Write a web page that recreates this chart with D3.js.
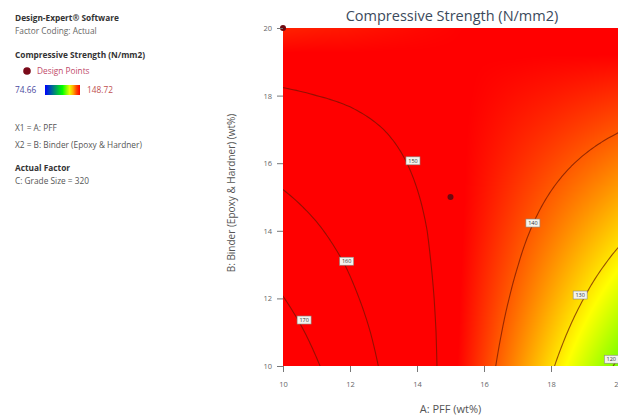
<!DOCTYPE html>
<html><head><meta charset="utf-8">
<script src="https://cdn.jsdelivr.net/npm/d3@7"></script>
<style>body{margin:0;background:#fff} svg{display:block;font-family:"Open Sans",sans-serif}</style>
</head><body><svg id="chart" width="618" height="418"></svg>
<script>
// ---- data ----
const xGrid = [10, 11, 12, 13, 14, 15, 16, 17, 18, 19, 20];   // A: PFF (wt%)
const yGrid = [10, 11, 12, 13, 14, 15, 16, 17, 18, 19, 20];   // B: Binder (wt%)
// estimated response (N/mm2), one row per B value (B = 10 ... 20), columns A = 10 ... 20
const surface = [
  [176.3, 170.6, 164.9, 159.1, 153.4, 147.7, 142.0, 136.3, 130.6, 124.9, 119.2],
  [173.3, 168.2, 163.1, 158.0, 152.9, 147.8, 142.7, 137.6, 132.5, 127.4, 122.3],
  [170.2, 165.7, 161.2, 156.8, 152.3, 147.8, 143.3, 138.9, 134.4, 129.9, 125.4],
  [167.1, 163.2, 159.4, 155.5, 151.6, 147.8, 143.9, 140.1, 136.2, 132.3, 128.5],
  [163.9, 160.7, 157.4, 154.2, 151.0, 147.7, 144.5, 141.2, 138.0, 134.7, 131.5],
  [160.7, 158.1, 155.5, 152.8, 150.2, 147.6, 145.0, 142.3, 139.7, 137.1, 134.5],
  [157.5, 155.5, 153.5, 151.4, 149.4, 147.4, 145.4, 143.4, 141.4, 139.4, 137.4],
  [154.2, 152.8, 151.4, 150.0, 148.6, 147.2, 145.8, 144.4, 143.1, 141.7, 140.3],
  [150.8, 150.0, 149.3, 148.5, 147.7, 147.0, 146.2, 145.4, 144.7, 143.9, 143.1],
  [147.4, 147.3, 147.1, 147.0, 146.8, 146.7, 146.5, 146.4, 146.2, 146.1, 145.9],
  [144.0, 144.5, 144.9, 145.4, 145.9, 146.3, 146.8, 147.3, 147.7, 148.2, 148.7]
];
const contourLevels = [120, 130, 140, 150, 160, 170];
const labelA = [19.8, 18.87, 17.46, 13.88, 11.9, 10.63];
const labelB = [10.2, 12.1, 14.23, 16.07, 13.1, 11.36];
const designA = [10, 15];
const designB = [20, 15];
const xTicks = [10, 12, 14, 16, 18, 20];
const yTicks = [10, 12, 14, 16, 18, 20];
const legendMin = 74.66, legendMax = 148.72;

// ---- drawing ----
const svg = d3.select("#chart");
const x = d3.scaleLinear().domain([10, 20]).range([283, 618]);
const y = d3.scaleLinear().domain([10, 20]).range([366, 28]);
const color = d3.scaleLinear()
  .domain([legendMin, 111.69, 128, 146.5])
  .range(["#0000ff", "#00ff00", "#ffff00", "#ff0000"])
  .clamp(true);

function interp(a, b) {
  const gi = Math.max(0, Math.min(9.9999, a - xGrid[0]));
  const gj = Math.max(0, Math.min(9.9999, b - yGrid[0]));
  const i = Math.floor(gi), j = Math.floor(gj);
  const fx = gi - i, fy = gj - j;
  const v00 = surface[j][i], v10 = surface[j][i + 1], v01 = surface[j + 1][i], v11 = surface[j + 1][i + 1];
  return v00 * (1 - fx) * (1 - fy) + v10 * fx * (1 - fy) + v01 * (1 - fx) * fy + v11 * fx * fy;
}

// colour field
const W = Math.round(x(20) - x(10)), H = Math.round(y(10) - y(20));
const cv = document.createElement("canvas");
cv.width = W; cv.height = H;
const ctx = cv.getContext("2d");
const img = ctx.createImageData(W, H);
for (let py = 0; py < H; py++) {
  for (let px = 0; px < W; px++) {
    const v = interp(x.invert(x(10) + px + 0.5), y.invert(y(20) + py + 0.5));
    const c = d3.rgb(color(v));
    const k = (py * W + px) * 4;
    img.data[k] = c.r; img.data[k + 1] = c.g; img.data[k + 2] = c.b; img.data[k + 3] = 255;
  }
}
ctx.putImageData(img, 0, 0);

svg.append("defs").append("clipPath").attr("id", "plotclip")
  .append("rect").attr("x", x(10)).attr("y", y(20)).attr("width", W).attr("height", H);

svg.append("image").attr("x", x(10)).attr("y", y(20)).attr("width", W).attr("height", H)
  .attr("preserveAspectRatio", "none").attr("href", cv.toDataURL());

// contours
const n = 101, step = 0.1;
const fine = new Array(n * n);
for (let j = 0; j < n; j++) for (let i = 0; i < n; i++) fine[j * n + i] = interp(10 + i * step, 10 + j * step);
const contours = d3.contours().size([n, n]).thresholds(contourLevels)(fine);
const proj = d3.geoTransform({
  point: function (gx, gy) { this.stream.point(x(10 + (gx - 0.5) * step), y(10 + (gy - 0.5) * step)); }
});
const path = d3.geoPath(proj);
svg.append("g").attr("clip-path", "url(#plotclip)")
  .selectAll("path").data(contours).join("path")
  .attr("d", path).attr("fill", "none")
  .attr("stroke", "#6b1400").attr("stroke-opacity", 0.7).attr("stroke-width", 1.1);

// contour labels
const lab = svg.append("g").selectAll("g").data(contourLevels).join("g")
  .attr("transform", (d, i) => `translate(${x(labelA[i])},${y(labelB[i])})`);
lab.append("rect").attr("x", -7).attr("y", -4).attr("width", 14).attr("height", 8)
  .attr("fill", "#f4f4ee").attr("stroke", "#8a8a80").attr("stroke-width", 0.6);
lab.append("text").attr("text-anchor", "middle").attr("dy", "0.35em")
  .attr("font-size", 5.5).attr("fill", "#333").text(d => d);

// design points
svg.append("g").selectAll("circle").data(designA).join("circle")
  .attr("cx", d => x(d)).attr("cy", (d, i) => y(designB[i])).attr("r", 3)
  .attr("fill", "#6e0a10");

// axes
const ax = svg.append("g").attr("transform", `translate(0,${y(10)})`)
  .call(d3.axisBottom(x).tickValues(xTicks).tickSize(6).tickPadding(10).tickSizeOuter(0));
const ay = svg.append("g").attr("transform", `translate(${x(10)},0)`)
  .call(d3.axisLeft(y).tickValues(yTicks).tickSize(6).tickPadding(5).tickSizeOuter(0));
[ax, ay].forEach(g => {
  g.select(".domain").remove();
  g.selectAll(".tick line").attr("stroke", "#777");
  g.selectAll(".tick text").attr("fill", "#666").attr("font-size", 7.5).attr("font-family", "Open Sans, sans-serif");
});

svg.append("text").attr("x", (x(10) + x(20)) / 2).attr("y", 413).attr("text-anchor", "middle")
  .attr("font-size", 11).attr("fill", "#555").text("A: PFF (wt%)");
svg.append("text").attr("transform", `translate(235,${(y(10) + y(20)) / 2 - 4}) rotate(-90)`)
  .attr("text-anchor", "middle").attr("font-size", 10).attr("fill", "#555")
  .text("B: Binder (Epoxy & Hardner) (wt%)");
svg.append("text").attr("x", 452).attr("y", 21).attr("text-anchor", "middle")
  .attr("font-size", 14.5).attr("fill", "#3b4a5c").text("Compressive Strength (N/mm2)");

// left info panel
const info = svg.append("g").attr("font-size", 8.3).attr("fill", "#444");
info.append("text").attr("x", 15).attr("y", 21).attr("font-weight", "bold").attr("fill", "#333").text("Design-Expert® Software");
info.append("text").attr("x", 15).attr("y", 34).attr("fill", "#666").text("Factor Coding: Actual");
info.append("text").attr("x", 15).attr("y", 58).attr("font-weight", "bold").attr("fill", "#333").text("Compressive Strength (N/mm2)");
info.append("circle").attr("cx", 27).attr("cy", 71).attr("r", 3.8).attr("fill", "#7a0a1a");
info.append("text").attr("x", 37).attr("y", 74).attr("fill", "#c04a6a").text("Design Points");
info.append("text").attr("x", 15).attr("y", 93).attr("fill", "#4a4aa0").text(legendMin.toFixed(2));
const grad = svg.append("defs").append("linearGradient").attr("id", "lg");
d3.range(0, 1.0001, 0.1).forEach(t => grad.append("stop").attr("offset", t)
  .attr("stop-color", color(legendMin + t * (legendMax - legendMin))));
info.append("rect").attr("x", 45).attr("y", 85).attr("width", 35).attr("height", 10).attr("fill", "url(#lg)");
info.append("text").attr("x", 87).attr("y", 93).attr("fill", "#c05050").text(legendMax.toFixed(2));
info.append("text").attr("x", 15).attr("y", 131).attr("fill", "#555").text("X1 = A: PFF");
info.append("text").attr("x", 15).attr("y", 148).attr("fill", "#555").text("X2 = B: Binder (Epoxy & Hardner)");
info.append("text").attr("x", 15).attr("y", 171).attr("font-weight", "bold").attr("fill", "#333").text("Actual Factor");
info.append("text").attr("x", 15).attr("y", 184).attr("fill", "#555").text("C: Grade Size = 320");
</script></body></html>
